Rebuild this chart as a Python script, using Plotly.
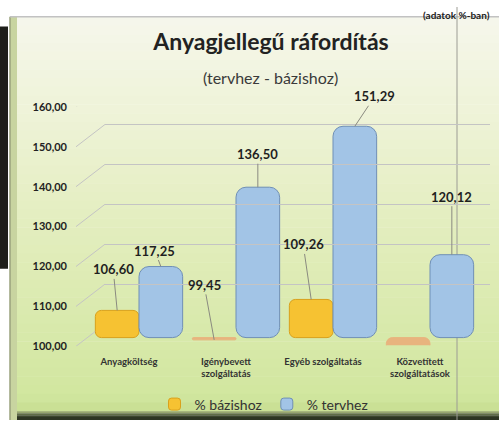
import plotly.graph_objects as go

# ---------------- data ----------------
categories = ["Anyagköltség", "Igénybevett<br>szolgáltatás", "Egyéb szolgáltatás", "Közvetített<br>szolgáltatások"]
bazishoz = [106.60, 99.45, 109.26, 91.44]
tervhez = [117.25, 136.50, 151.29, 120.12]
series_names = ["% bázishoz", "% tervhez"]
y_ticks = [100, 110, 120, 130, 140, 150, 160]
title_text = "Anyagjellegű ráfordítás"
subtitle_text = "(tervhez - bázishoz)"
corner_text = "(adatok %-ban)"

# ---------------- layout helpers ----------------
W, H = 499, 426
def fx(px):
    return px / W
def fy(py):
    return 1 - py / H

FONT = "Lato"
Y_FLOOR = 100
BAR_BASE_PX, BAR_BOT_PX, BAR_TOP_PX, PX_PER_UNIT = 341, 349, 80, 4.25
bar_range = [Y_FLOOR - (BAR_BOT_PX - BAR_BASE_PX) / PX_PER_UNIT,
             Y_FLOOR + (BAR_BASE_PX - BAR_TOP_PX) / PX_PER_UNIT]

ORANGE, ORANGE_EDGE, SLAB = "#f6c232", "#d9a11c", "#e8b47e"
BLUE, BLUE_EDGE = "#a2c4e6", "#6f8fb6"

def fmt(v):
    return f"{v:.2f}".replace(".", ",")

idx = list(range(len(categories)))
fig = go.Figure()

clipped = [v < Y_FLOOR for v in bazishoz]
fig.add_trace(go.Bar(
    x=idx, y=[v - Y_FLOOR for v in bazishoz], base=Y_FLOOR, name=series_names[0],
    marker=dict(color=[SLAB if c else ORANGE for c in clipped],
                line=dict(color=[SLAB if c else ORANGE_EDGE for c in clipped], width=1),
                cornerradius=6),
    hovertext=[fmt(v) for v in bazishoz], hoverinfo="text",
    xaxis="x", yaxis="y"))
fig.add_trace(go.Bar(
    x=idx, y=[v - Y_FLOOR for v in tervhez], base=Y_FLOOR, name=series_names[1],
    marker=dict(color=BLUE, line=dict(color=BLUE_EDGE, width=1), cornerradius=10),
    hovertext=[fmt(v) for v in tervhez], hoverinfo="text",
    xaxis="x", yaxis="y"))
# empty helpers so the label axis and back-wall grid axis get drawn
fig.add_trace(go.Scatter(x=[], y=[], xaxis="x", yaxis="y2", showlegend=False, hoverinfo="skip"))
fig.add_trace(go.Scatter(x=[], y=[], xaxis="x2", yaxis="y3", showlegend=False, hoverinfo="skip"))

# ---------------- background panel (decoration) ----------------
shapes = []
stops = [(10, (246, 247, 236)), (120, (238, 243, 214)), (250, (225, 237, 186)),
         (400, (210, 231, 160)), (417, (200, 222, 146))]
N = 45
for k in range(N):
    y0 = 10 + (417 - 10) * k / N
    y1 = 10 + (417 - 10) * (k + 1) / N
    ym = (y0 + y1) / 2
    for (a, ca), (b, cb) in zip(stops[:-1], stops[1:]):
        if a <= ym <= b:
            t = (ym - a) / (b - a)
            c = tuple(int(ca[i] + (cb[i] - ca[i]) * t) for i in range(3))
            break
    shapes.append(dict(type="rect", xref="paper", yref="paper", x0=fx(10), x1=1,
                       y0=fy(y1 + 0.5), y1=fy(y0), fillcolor=f"rgb{c}", line_width=0, layer="below"))
# bottom dark band
bottom = [(417, (150, 165, 110)), (419, (95, 108, 70)), (421, (60, 70, 45)), (423, (45, 52, 35))]
for k, (yy, c) in enumerate(bottom):
    y_next = bottom[k + 1][0] if k + 1 < len(bottom) else H
    shapes.append(dict(type="rect", xref="paper", yref="paper", x0=fx(10), x1=1,
                       y0=fy(y_next), y1=fy(yy), fillcolor=f"rgb{c}", line_width=0, layer="below"))
# left bevel
shapes.append(dict(type="rect", xref="paper", yref="paper", x0=fx(10), x1=fx(17),
                   y0=fy(H), y1=fy(10), fillcolor="rgb(200,212,160)", line_width=0, layer="below"))
shapes.append(dict(type="line", xref="paper", yref="paper", x0=fx(10), x1=fx(10),
                   y0=fy(H), y1=fy(10), line=dict(color="#9aa27c", width=1.5), layer="below"))
# top edge line
shapes.append(dict(type="line", xref="paper", yref="paper", x0=fx(10), x1=1,
                   y0=fy(10), y1=fy(10), line=dict(color="#c2c2c2", width=1.5), layer="below"))
# scan artefacts: left dark strip and vertical fold line
shapes.append(dict(type="rect", xref="paper", yref="paper", x0=0, x1=fx(8),
                   y0=fy(270), y1=fy(20), fillcolor="#1e1e1a", line_width=0, layer="below"))
shapes.append(dict(type="line", xref="paper", yref="paper", x0=fx(457), x1=fx(457),
                   y0=0, y1=1, line=dict(color="#9c9c94", width=1), layer="below"))
# slanted connectors from front labels to back-wall gridlines
LABEL_TOP, LABEL_BOT, BACK_SHIFT_PX = 103, 350, 23
shift_units = BACK_SHIFT_PX * (y_ticks[-1] - y_ticks[0]) / (LABEL_BOT - LABEL_TOP)
for v in y_ticks:
    shapes.append(dict(type="line", xref="paper", yref="y2", x0=fx(76), x1=fx(105),
                       y0=v, y1=v + shift_units, line=dict(color="#c4c4c4", width=1), layer="below"))

# ---------------- data labels ----------------
annotations = []
bar_off = 0.225
label_offsets_b = [(-4, -41), (-10, -55), (-8, -55), (-10, -89)]
label_offsets_t = [(-6, -16), (0, -33), (20, -30), (0, -58)]
leader_b = [True, True, True, False]
for i, v in enumerate(bazishoz):
    ax, ay = label_offsets_b[i]
    common = dict(x=i - bar_off, y=v, xref="x", yref="y", text=fmt(v),
                  font=dict(family=FONT, size=13, color="#1f1f1f", weight="bold"))
    if leader_b[i]:
        annotations.append(dict(**common, showarrow=True, arrowhead=0, arrowwidth=1,
                                arrowcolor="#8a8a80", ax=ax, ay=ay, standoff=0))
    else:
        annotations.append(dict(**common, showarrow=False, xshift=ax, yshift=-ay))
for i, v in enumerate(tervhez):
    ax, ay = label_offsets_t[i]
    annotations.append(dict(x=i + bar_off, y=v, xref="x", yref="y", text=fmt(v),
                            showarrow=True, arrowhead=0, arrowwidth=1, arrowcolor="#8a8a80",
                            ax=ax, ay=ay, standoff=0,
                            font=dict(family=FONT, size=13, color="#1f1f1f", weight="bold")))
annotations.append(dict(x=fx(270), y=fy(73), xref="paper", yref="paper", text=subtitle_text,
                        showarrow=False, xanchor="center", yanchor="middle",
                        font=dict(family=FONT, size=16, color="#3a3a3a")))
annotations.append(dict(x=fx(492), y=1, xref="paper", yref="paper", text=corner_text,
                        showarrow=False, xanchor="right", yanchor="top",
                        font=dict(family=FONT, size=10, color="#222", weight="bold")))

fig.update_layout(
    width=W, height=H,
    margin=dict(l=0, r=0, t=0, b=0),
    paper_bgcolor="white", plot_bgcolor="rgba(0,0,0,0)",
    separators=",.",
    barmode="group", bargap=0.1, bargroupgap=0,
    title=dict(text=title_text, x=fx(271), xanchor="center", y=fy(42), yanchor="middle",
               font=dict(family=FONT, size=23, color="#222", weight="bold")),
    xaxis=dict(domain=[fx(90.5), fx(478.5)], range=[-0.5, 3.5], anchor="y",
               tickvals=idx, ticktext=categories, showgrid=False, zeroline=False,
               showline=False, ticks="", ticklabelshift=-10, ticklabelstandoff=9,
               tickfont=dict(family=FONT, size=9.5, color="#333", weight="bold")),
    yaxis=dict(domain=[fy(BAR_BOT_PX), fy(BAR_TOP_PX)], range=bar_range, visible=False),
    yaxis2=dict(domain=[fy(LABEL_BOT), fy(LABEL_TOP)], range=[y_ticks[0], y_ticks[-1]],
                tickvals=y_ticks, tickformat=".2f", anchor="free", position=fx(67),
                showgrid=False, zeroline=False, showline=False, ticks="",
                tickfont=dict(family=FONT, size=11, color="#222", weight="bold")),
    xaxis2=dict(domain=[fx(105), fx(490)], range=[0, 1], anchor="y3", visible=False),
    yaxis3=dict(domain=[fy(LABEL_BOT - BACK_SHIFT_PX), fy(LABEL_TOP - BACK_SHIFT_PX)],
                range=[y_ticks[0], y_ticks[-1]], tickvals=y_ticks, anchor="x2",
                showgrid=True, gridcolor="#c4c4c4", gridwidth=1, showticklabels=False,
                zeroline=False, showline=False, ticks=""),
    legend=dict(orientation="h", x=fx(264), xanchor="center", y=fy(410), yanchor="middle",
                bgcolor="rgba(0,0,0,0)", font=dict(family=FONT, size=14, color="#333"),
                traceorder="normal"),
    shapes=shapes,
    annotations=annotations,
)

fig.write_html("out.html", config={"displayModeBar": False},
               post_script="document.body.style.margin='0';")
